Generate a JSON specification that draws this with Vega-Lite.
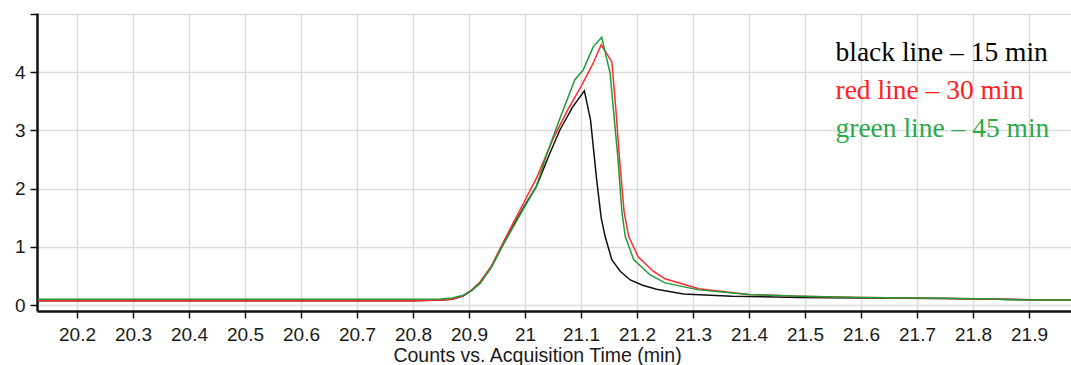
{
  "$schema": "https://vega.github.io/schema/vega-lite/v6.json",
  "width": 1034,
  "height": 298,
  "autosize": "none",
  "padding": {"left": 37, "top": 13, "right": 0, "bottom": 54},
  "background": "white",
  "config": {"view": {"stroke": null}},
  "data": {"values": [
    {"t":20.13,"v":0.075,"s":"black line – 15 min"},{"t":20.5,"v":0.075,"s":"black line – 15 min"},{"t":20.8,"v":0.075,"s":"black line – 15 min"},{"t":20.85,"v":0.085,"s":"black line – 15 min"},{"t":20.87,"v":0.10,"s":"black line – 15 min"},{"t":20.89,"v":0.16,"s":"black line – 15 min"},{"t":20.905,"v":0.25,"s":"black line – 15 min"},{"t":20.92,"v":0.38,"s":"black line – 15 min"},{"t":20.94,"v":0.65,"s":"black line – 15 min"},{"t":20.956,"v":0.95,"s":"black line – 15 min"},{"t":20.98,"v":1.38,"s":"black line – 15 min"},{"t":21.0,"v":1.72,"s":"black line – 15 min"},{"t":21.02,"v":2.03,"s":"black line – 15 min"},{"t":21.045,"v":2.62,"s":"black line – 15 min"},{"t":21.063,"v":3.02,"s":"black line – 15 min"},{"t":21.085,"v":3.40,"s":"black line – 15 min"},{"t":21.106,"v":3.68,"s":"black line – 15 min"},{"t":21.117,"v":3.18,"s":"black line – 15 min"},{"t":21.128,"v":2.15,"s":"black line – 15 min"},{"t":21.136,"v":1.5,"s":"black line – 15 min"},{"t":21.143,"v":1.18,"s":"black line – 15 min"},{"t":21.155,"v":0.78,"s":"black line – 15 min"},{"t":21.17,"v":0.58,"s":"black line – 15 min"},{"t":21.188,"v":0.43,"s":"black line – 15 min"},{"t":21.21,"v":0.34,"s":"black line – 15 min"},{"t":21.235,"v":0.27,"s":"black line – 15 min"},{"t":21.283,"v":0.19,"s":"black line – 15 min"},{"t":21.37,"v":0.15,"s":"black line – 15 min"},{"t":21.49,"v":0.13,"s":"black line – 15 min"},{"t":21.6,"v":0.12,"s":"black line – 15 min"},{"t":21.75,"v":0.11,"s":"black line – 15 min"},{"t":21.85,"v":0.10,"s":"black line – 15 min"},{"t":21.9,"v":0.09,"s":"black line – 15 min"},{"t":21.975,"v":0.085,"s":"black line – 15 min"},
    {"t":20.13,"v":0.075,"s":"red line – 30 min"},{"t":20.5,"v":0.075,"s":"red line – 30 min"},{"t":20.8,"v":0.075,"s":"red line – 30 min"},{"t":20.85,"v":0.085,"s":"red line – 30 min"},{"t":20.87,"v":0.10,"s":"red line – 30 min"},{"t":20.89,"v":0.16,"s":"red line – 30 min"},{"t":20.905,"v":0.26,"s":"red line – 30 min"},{"t":20.92,"v":0.40,"s":"red line – 30 min"},{"t":20.94,"v":0.67,"s":"red line – 30 min"},{"t":20.956,"v":0.98,"s":"red line – 30 min"},{"t":20.98,"v":1.43,"s":"red line – 30 min"},{"t":21.0,"v":1.80,"s":"red line – 30 min"},{"t":21.02,"v":2.17,"s":"red line – 30 min"},{"t":21.05,"v":2.85,"s":"red line – 30 min"},{"t":21.075,"v":3.33,"s":"red line – 30 min"},{"t":21.1,"v":3.75,"s":"red line – 30 min"},{"t":21.12,"v":4.12,"s":"red line – 30 min"},{"t":21.136,"v":4.47,"s":"red line – 30 min"},{"t":21.155,"v":4.18,"s":"red line – 30 min"},{"t":21.162,"v":3.4,"s":"red line – 30 min"},{"t":21.169,"v":2.49,"s":"red line – 30 min"},{"t":21.177,"v":1.6,"s":"red line – 30 min"},{"t":21.185,"v":1.18,"s":"red line – 30 min"},{"t":21.202,"v":0.83,"s":"red line – 30 min"},{"t":21.229,"v":0.58,"s":"red line – 30 min"},{"t":21.25,"v":0.45,"s":"red line – 30 min"},{"t":21.31,"v":0.28,"s":"red line – 30 min"},{"t":21.4,"v":0.18,"s":"red line – 30 min"},{"t":21.49,"v":0.15,"s":"red line – 30 min"},{"t":21.6,"v":0.13,"s":"red line – 30 min"},{"t":21.75,"v":0.11,"s":"red line – 30 min"},{"t":21.85,"v":0.10,"s":"red line – 30 min"},{"t":21.9,"v":0.09,"s":"red line – 30 min"},{"t":21.975,"v":0.085,"s":"red line – 30 min"},
    {"t":20.13,"v":0.10,"s":"green line – 45 min"},{"t":20.5,"v":0.10,"s":"green line – 45 min"},{"t":20.8,"v":0.10,"s":"green line – 45 min"},{"t":20.85,"v":0.105,"s":"green line – 45 min"},{"t":20.87,"v":0.12,"s":"green line – 45 min"},{"t":20.89,"v":0.17,"s":"green line – 45 min"},{"t":20.905,"v":0.25,"s":"green line – 45 min"},{"t":20.92,"v":0.38,"s":"green line – 45 min"},{"t":20.94,"v":0.65,"s":"green line – 45 min"},{"t":20.956,"v":0.95,"s":"green line – 45 min"},{"t":20.98,"v":1.36,"s":"green line – 45 min"},{"t":21.0,"v":1.70,"s":"green line – 45 min"},{"t":21.02,"v":2.03,"s":"green line – 45 min"},{"t":21.04,"v":2.62,"s":"green line – 45 min"},{"t":21.063,"v":3.22,"s":"green line – 45 min"},{"t":21.089,"v":3.87,"s":"green line – 45 min"},{"t":21.104,"v":4.04,"s":"green line – 45 min"},{"t":21.122,"v":4.44,"s":"green line – 45 min"},{"t":21.137,"v":4.60,"s":"green line – 45 min"},{"t":21.152,"v":3.98,"s":"green line – 45 min"},{"t":21.166,"v":2.52,"s":"green line – 45 min"},{"t":21.173,"v":1.6,"s":"green line – 45 min"},{"t":21.179,"v":1.18,"s":"green line – 45 min"},{"t":21.194,"v":0.78,"s":"green line – 45 min"},{"t":21.223,"v":0.52,"s":"green line – 45 min"},{"t":21.25,"v":0.38,"s":"green line – 45 min"},{"t":21.31,"v":0.26,"s":"green line – 45 min"},{"t":21.4,"v":0.18,"s":"green line – 45 min"},{"t":21.49,"v":0.15,"s":"green line – 45 min"},{"t":21.6,"v":0.13,"s":"green line – 45 min"},{"t":21.75,"v":0.115,"s":"green line – 45 min"},{"t":21.84,"v":0.105,"s":"green line – 45 min"},{"t":21.86,"v":0.09,"s":"green line – 45 min"},{"t":21.975,"v":0.085,"s":"green line – 45 min"}
  ]},
  "mark": {"type": "line", "strokeWidth": 1.5, "clip": true},
  "encoding": {
    "x": {
      "field": "t", "type": "quantitative",
      "scale": {"domain": [20.1286, 21.975], "nice": false, "zero": false},
      "axis": {
        "values": [20.2,20.3,20.4,20.5,20.6,20.7,20.8,20.9,21,21.1,21.2,21.3,21.4,21.5,21.6,21.7,21.8,21.9],
        "format": "~g",
        "title": "Counts vs. Acquisition Time (min)",
        "titleFont": "Liberation Sans", "titleFontSize": 19.5, "titleFontWeight": "normal", "titleColor": "#1a1a1a",
        "titleX": 500, "titleY": 50, "titleAlign": "center", "titleBaseline": "alphabetic",
        "labelFont": "Liberation Sans", "labelFontSize": 19, "labelColor": "#1a1a1a", "labelPadding": 7,
        "labelFlush": false, "labelOverlap": false,
        "domainColor": "#111111", "domainWidth": 2.5,
        "tickColor": "#111111", "tickWidth": 1.5, "tickSize": 7,
        "grid": true, "gridColor": "#dcdcdc", "gridWidth": 1.5
      }
    },
    "y": {
      "field": "v", "type": "quantitative",
      "scale": {"domain": [-0.103, 5.017], "nice": false, "zero": false},
      "axis": {
        "values": [0,1,2,3,4,5],
        "labelExpr": "datum.value == 5 ? '' : datum.label",
        "title": null,
        "labelFont": "Liberation Sans", "labelFontSize": 19, "labelColor": "#1a1a1a", "labelPadding": 5,
        "labelFlush": false,
        "domainColor": "#111111", "domainWidth": 2.5,
        "tickColor": "#111111", "tickWidth": 1.5, "tickSize": 7,
        "grid": true, "gridColor": "#dcdcdc", "gridWidth": 1.5
      }
    },
    "color": {
      "field": "s", "type": "nominal",
      "scale": {"domain": ["black line – 15 min", "red line – 30 min", "green line – 45 min"], "range": ["#111111", "#ff2a2a", "#1f9a3a"]},
      "legend": {
        "orient": "none", "legendX": 771, "legendY": 26,
        "title": null, "padding": 0,
        "symbolType": "stroke", "symbolSize": 0, "symbolStrokeWidth": 0, "symbolOpacity": 0,
        "labelOffset": 0, "labelLimit": 400,
        "labelFont": "Liberation Serif", "labelFontSize": 27.5, "rowPadding": 9,
        "labelColor": {"expr": "indexof(datum.label, 'red') == 0 ? '#ff2020' : indexof(datum.label, 'green') == 0 ? '#2aaa48' : '#000000'"}
      }
    }
  }
}
